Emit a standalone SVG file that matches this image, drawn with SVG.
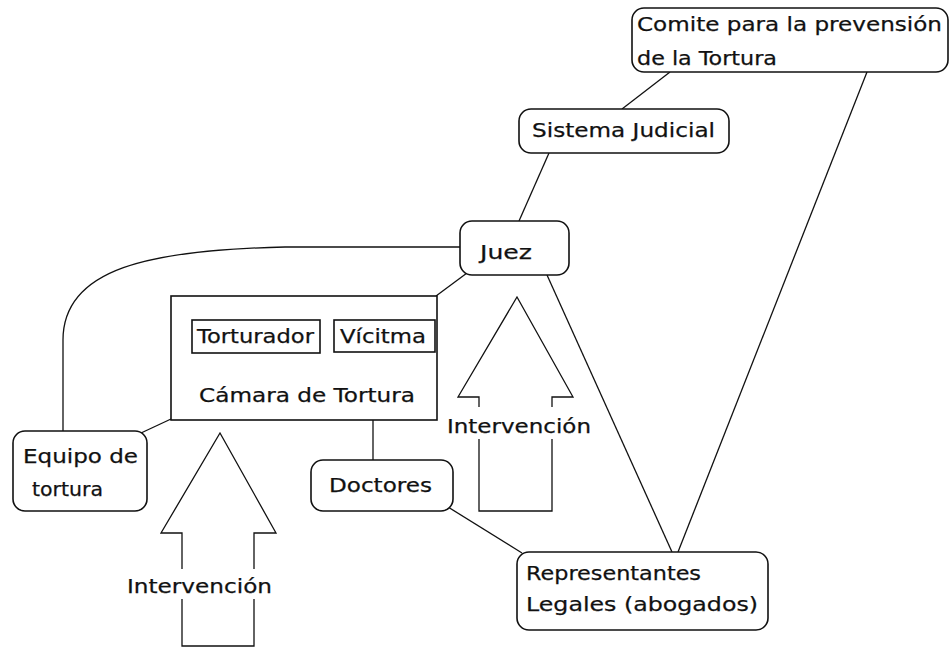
<svg xmlns="http://www.w3.org/2000/svg" width="951" height="647" viewBox="0 0 951 647">
<style>
.box{fill:#fff;stroke:#111;stroke-width:1.6}
.rect{fill:#fff;stroke:#111;stroke-width:1.6}
.ln{fill:none;stroke:#111;stroke-width:1.3}
.arrow{fill:#fff;stroke:#111;stroke-width:1.3}
text{font-family:"DejaVu Sans","Liberation Sans",sans-serif;font-size:20px;fill:#111;stroke:#111;stroke-width:0.25}
</style>
<rect width="951" height="647" fill="#fff"/>
<g id="connectors">
<line class="ln" x1="670" y1="72" x2="622" y2="109"/>
<line class="ln" x1="549" y1="153" x2="519" y2="221"/>
<path class="ln" d="M460,247 L285,247 C150,250 63,268 63,340 L63,431"/>
<line class="ln" x1="467" y1="273" x2="436" y2="296"/>
<line class="ln" x1="171" y1="419" x2="141" y2="433"/>
<line class="ln" x1="373" y1="420" x2="373" y2="460"/>
<line class="ln" x1="448" y1="507" x2="522" y2="553"/>
<line class="ln" x1="547" y1="275" x2="672" y2="552"/>
<line class="ln" x1="867" y1="72" x2="678" y2="552"/>
</g>
<g id="comite">
<rect class="box" x="632" y="8" width="316" height="64" rx="12"/>
<text x="637" y="31" textLength="305" lengthAdjust="spacingAndGlyphs">Comite para la prevensión</text>
<text x="637" y="65" textLength="140" lengthAdjust="spacingAndGlyphs">de la Tortura</text>
</g>
<g id="sistema">
<rect class="box" x="519" y="109" width="210" height="44" rx="12"/>
<text x="532" y="137" textLength="183" lengthAdjust="spacingAndGlyphs">Sistema Judicial</text>
</g>
<g id="juez">
<rect class="box" x="460" y="221" width="109" height="54" rx="12"/>
<text x="480" y="259" textLength="52" lengthAdjust="spacingAndGlyphs">Juez</text>
</g>
<g id="camara">
<rect class="rect" x="171" y="296" width="266" height="124"/>
<text x="199" y="402" textLength="216" lengthAdjust="spacingAndGlyphs">Cámara de Tortura</text>
</g>
<g id="torturador">
<rect class="rect" x="192" y="320" width="128" height="33"/>
<text x="197" y="343" textLength="117" lengthAdjust="spacingAndGlyphs">Torturador</text>
</g>
<g id="victima">
<rect class="rect" x="334" y="320" width="101" height="32"/>
<text x="340" y="343" textLength="86" lengthAdjust="spacingAndGlyphs">Vícitma</text>
</g>
<g id="equipo">
<rect class="box" x="13" y="431" width="134" height="80" rx="12"/>
<text x="23" y="463" textLength="115" lengthAdjust="spacingAndGlyphs">Equipo de</text>
<text x="32" y="496" textLength="71" lengthAdjust="spacingAndGlyphs">tortura</text>
</g>
<g id="doctores">
<rect class="box" x="311" y="460" width="142" height="51" rx="12"/>
<text x="329" y="492" textLength="103" lengthAdjust="spacingAndGlyphs">Doctores</text>
</g>
<g id="representantes">
<rect class="box" x="517" y="552" width="251" height="78" rx="12"/>
<text x="526" y="580" textLength="175" lengthAdjust="spacingAndGlyphs">Representantes</text>
<text x="526" y="611" textLength="232" lengthAdjust="spacingAndGlyphs">Legales (abogados)</text>
</g>
<g id="intervencion1">
<polygon class="arrow" points="220,433 276,533 254,533 254,646 182,646 182,533 161,533"/>
<rect x="125" y="569" width="150" height="30" fill="#fff"/>
<text x="127" y="593" textLength="145" lengthAdjust="spacingAndGlyphs">Intervención</text>
</g>
<g id="intervencion2">
<polygon class="arrow" points="517,297 573,397 552,397 552,511 479,511 479,397 458,397"/>
<rect x="445" y="407" width="149" height="32" fill="#fff"/>
<text x="447" y="433" textLength="144" lengthAdjust="spacingAndGlyphs">Intervención</text>
</g>
</svg>
